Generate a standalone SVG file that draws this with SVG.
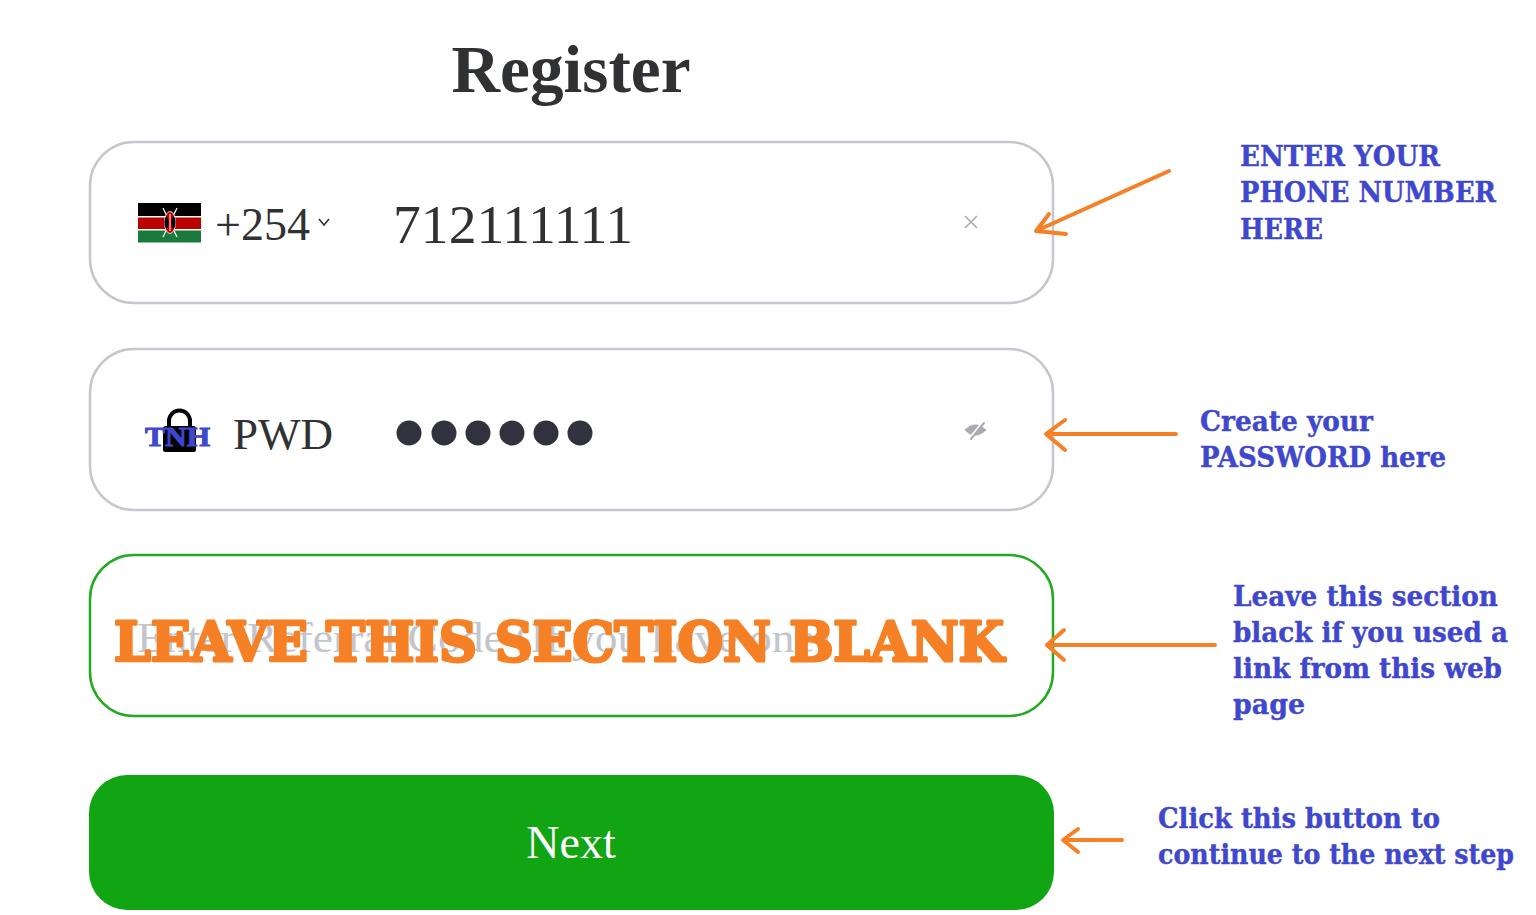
<svg xmlns="http://www.w3.org/2000/svg" width="1536" height="915" viewBox="0 0 1536 915">
<style>
.box{fill:#fff;stroke:#c4c7cd;stroke-width:2.5}
.ser{font-family:"Liberation Serif","Times New Roman",serif;fill:#303133}
.note{font-family:"DejaVu Serif",serif;font-weight:bold;font-size:28px;fill:#3f48cc;stroke:#3f48cc;stroke-width:0.4}
.arr{fill:none;stroke:#f58025;stroke-width:4;stroke-linecap:round;stroke-linejoin:round}
</style>
<rect width="1536" height="915" fill="#fff"/>
<g id="title"><text class="ser" x="571" y="92" text-anchor="middle" font-size="68" font-weight="bold" textLength="239" lengthAdjust="spacingAndGlyphs" fill="#2b2b33">Register</text></g>
<g id="phone">
<rect class="box" x="90" y="142" width="963" height="161" rx="44"/>
<g id="flag">
<rect x="138" y="203" width="63" height="13" fill="#000"/>
<rect x="138" y="216" width="63" height="1.5" fill="#fff"/>
<rect x="138" y="217.5" width="63" height="11.5" fill="#bb0000"/>
<rect x="138" y="229" width="63" height="1.5" fill="#fff"/>
<rect x="138" y="230.5" width="63" height="12" fill="#1a7a3c"/>
<line x1="163" y1="208" x2="177" y2="237" stroke="#fff" stroke-width="1.2"/>
<line x1="177" y1="208" x2="163" y2="237" stroke="#fff" stroke-width="1.2"/>
<ellipse cx="170" cy="222.5" rx="5.5" ry="11" fill="#bb0000" stroke="#fff" stroke-width="0.8"/>
<ellipse cx="166.5" cy="222.5" rx="2" ry="6" fill="#000"/>
<ellipse cx="173.5" cy="222.5" rx="2" ry="6" fill="#000"/>
<line x1="170" y1="214" x2="170" y2="231" stroke="#fff" stroke-width="1"/>
</g>
<text class="ser" x="215" y="240" font-size="46">+254</text>
<polyline points="319,219 324,225 329,219" fill="none" stroke="#303133" stroke-width="1.6"/>
<text class="ser" x="393" y="243" font-size="54" textLength="240" lengthAdjust="spacingAndGlyphs">712111111</text>
<path d="M965 216 L977 228 M977 216 L965 228" stroke="#a8abb2" stroke-width="1.6" fill="none"/>
</g>
<g id="password">
<rect class="box" x="90" y="349" width="963" height="161" rx="44"/>
<path d="M169 428 V421 A10.5 10.5 0 0 1 190 421 V428" fill="none" stroke="#000" stroke-width="4"/>
<rect x="163" y="426" width="33" height="26" rx="2.5" fill="#000"/>
<text x="145" y="446" font-family="Liberation Serif,serif" font-weight="bold" font-size="28" fill="#3f48cc" stroke="#3f48cc" stroke-width="1" textLength="65" lengthAdjust="spacingAndGlyphs">TNH</text>
<text class="ser" x="233" y="449" font-size="45">PWD</text>
<g fill="#32323e">
<circle cx="409" cy="433" r="12.5"/><circle cx="444" cy="433" r="12.5"/><circle cx="478" cy="433" r="12.5"/>
<circle cx="512" cy="433" r="12.5"/><circle cx="546" cy="433" r="12.5"/><circle cx="580" cy="433" r="12.5"/>
</g>
<g fill="none" stroke="#a8abb2" stroke-width="3" stroke-linecap="round">
<path d="M966 430 Q975 421 985 430 Q975 439 966 430 Z" fill="#a8abb2" stroke-width="2"/>
<line x1="970" y1="438" x2="983" y2="422" stroke="#fff" stroke-width="2.5"/>
<line x1="971" y1="439" x2="984" y2="423" stroke-width="2"/>
</g>
</g>
<g id="referral">
<rect x="90" y="555" width="963" height="161" rx="44" fill="#fff" stroke="#22aa22" stroke-width="2.5"/>
<text x="137" y="652" font-family="Liberation Serif,serif" font-size="42" fill="#c2c5cc" textLength="693" lengthAdjust="spacingAndGlyphs">Enter Referral Code (If you have one)</text>
<text x="114" y="661" font-family="DejaVu Serif,serif" font-weight="900" font-size="54" fill="#f58025" stroke="#f58025" stroke-width="3" stroke-linejoin="round" textLength="890" lengthAdjust="spacingAndGlyphs">LEAVE THIS SECTION BLANK</text>
</g>
<g id="next">
<rect x="89" y="775" width="965" height="135" rx="38" fill="#11a514"/>
<text x="571" y="858" text-anchor="middle" font-family="Liberation Serif,serif" font-size="46" fill="#fff">Next</text>
</g>
<g id="connectors">
<path class="arr" d="M1169 171 L1036 231 M1049 214 L1036 231 L1066 234"/>
<path class="arr" d="M1176 434 L1046 434 M1065 420 L1046 434 L1065 450"/>
<path class="arr" d="M1215 645 L1047 645 M1064 630 L1047 645 L1064 660"/>
<path class="arr" d="M1122 840 L1063 840 M1078 829 L1063 840 L1078 852"/>
</g>
<g id="notes">
<text class="note" x="1240" y="166" textLength="200" lengthAdjust="spacingAndGlyphs">ENTER YOUR</text>
<text class="note" x="1240" y="202" textLength="256" lengthAdjust="spacingAndGlyphs">PHONE NUMBER</text>
<text class="note" x="1240" y="239" textLength="83" lengthAdjust="spacingAndGlyphs">HERE</text>
<text class="note" x="1200" y="431" textLength="173" lengthAdjust="spacingAndGlyphs">Create your</text>
<text class="note" x="1200" y="467" textLength="246" lengthAdjust="spacingAndGlyphs">PASSWORD here</text>
<text class="note" x="1233" y="606" textLength="265" lengthAdjust="spacingAndGlyphs">Leave this section</text>
<text class="note" x="1233" y="642" textLength="275" lengthAdjust="spacingAndGlyphs">black if you used a</text>
<text class="note" x="1233" y="678" textLength="269" lengthAdjust="spacingAndGlyphs">link from this web</text>
<text class="note" x="1233" y="714" textLength="72" lengthAdjust="spacingAndGlyphs">page</text>
<text class="note" x="1158" y="828" textLength="282" lengthAdjust="spacingAndGlyphs">Click this button to</text>
<text class="note" x="1158" y="864" textLength="356" lengthAdjust="spacingAndGlyphs">continue to the next step</text>
</g>
</svg>
